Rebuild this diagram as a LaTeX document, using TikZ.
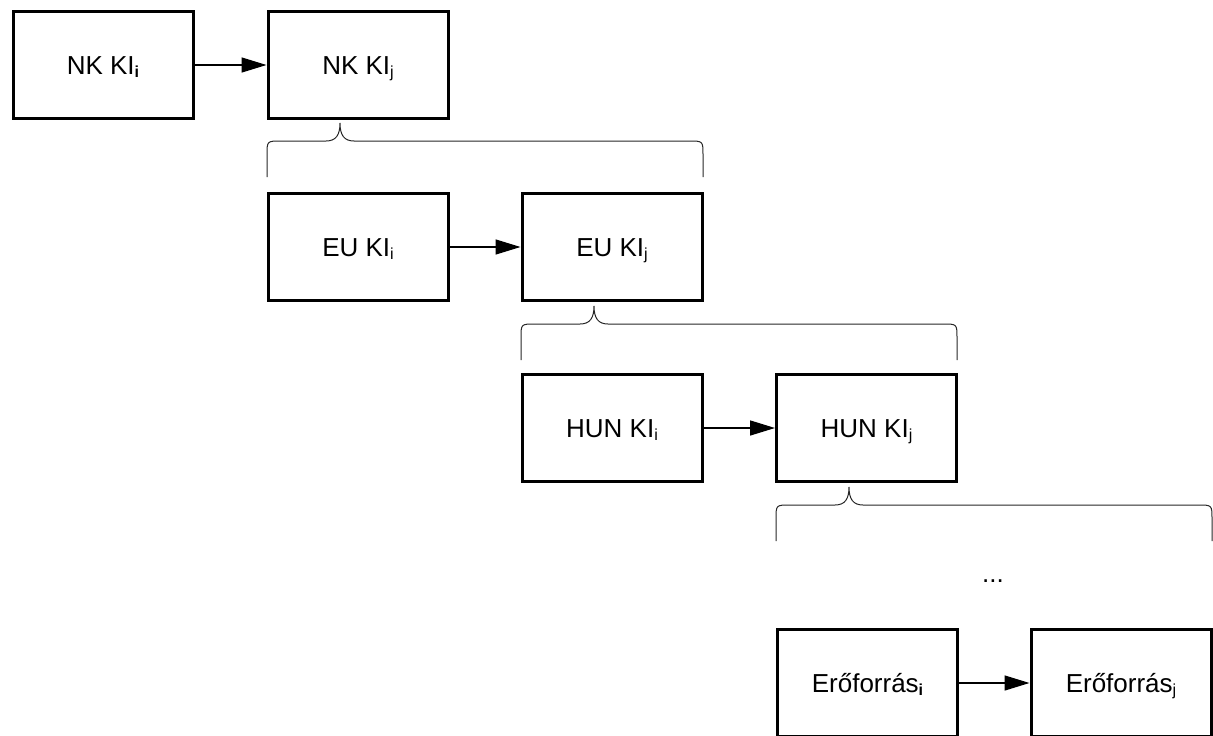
\documentclass[tikz,border=0pt]{standalone}
\usepackage{fontspec}
\setmainfont{Liberation Sans}
\usetikzlibrary{arrows.meta}
\newcommand\lsub[1]{\raisebox{-3pt}{\fontsize{16}{18}\selectfont #1}}
\newcommand\curlybr[4]{%
  \draw[bracestyle] (#1,#4+58) -- (#1,#4+36) .. controls (#1,#4+22) .. (#1+14,#4+22)
    -- (#2-14,#4+22) .. controls (#2-4,#4+22) and (#2,#4+16) .. (#2,#4+4)
    .. controls (#2,#4+16) and (#2+4,#4+22) .. (#2+14,#4+22)
    -- (#3-14,#4+22) .. controls (#3,#4+22) .. (#3,#4+36) -- (#3,#4+58);}
\begin{document}
\begin{tikzpicture}[x=1pt,y=-1pt,
  box/.style={draw, line width=3pt, minimum width=180pt, minimum height=107pt,
    inner sep=0pt, text height=24pt, text depth=6pt, font=\fontsize{26}{30}\selectfont},
  flow/.style={line width=1.5pt, -{Triangle[length=25pt,width=15pt]}},
  bracestyle/.style={line width=1pt, draw=black!85}]
\useasboundingbox (0,0) rectangle (1213,736);
\clip (0,0) rectangle (1213,736);
\node[box] (a1) at (103,65) {NK KI\lsub{\textbf{i}}};
\node[box] (a2) at (358,65) {NK KI\lsub{j}};
\node[box] (b1) at (358,247) {EU KI\lsub{i}};
\node[box] (b2) at (612,247) {EU KI\lsub{j}};
\node[box] (c1) at (612,428) {HUN KI\lsub{i}};
\node[box] (c2) at (866.5,428) {HUN KI\lsub{j}};
\node[box] (d1) at (867.5,683) {Erőforrás\lsub{\textbf{i}}};
\node[box] (d2) at (1121,683) {Erőforrás\lsub{j}};
\node[font=\fontsize{26}{30}\selectfont, anchor=base, inner sep=0pt] (dots) at (993,582) {...};
\draw[flow] (a1) -- (a2);
\draw[flow] (b1) -- (b2);
\draw[flow] (c1) -- (c2);
\draw[flow] (d1) -- (d2);
\curlybr{267}{340}{703}{119}
\curlybr{521}{594}{957}{302}
\curlybr{776}{849}{1212}{483}
\end{tikzpicture}
\end{document}
